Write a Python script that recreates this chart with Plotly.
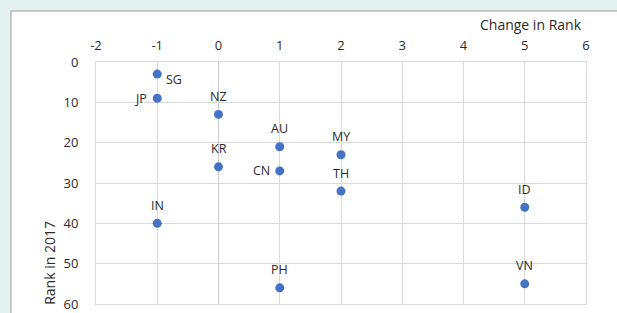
import plotly.graph_objects as go

countries = ["SG", "JP", "NZ", "AU", "MY", "KR", "CN", "TH", "ID", "IN", "VN", "PH"]
change_in_rank = [-1, -1, 0, 1, 2, 0, 1, 2, 5, -1, 5, 1]
rank_2017 = [3, 9, 13, 21, 23, 26, 27, 32, 36, 40, 55, 56]
label_side = ["right", "left", "top", "top", "top", "top", "left", "top", "top", "top", "top", "top"]

x_ticks = [-2, -1, 0, 1, 2, 3, 4, 5, 6]
x_tick_labels = ["-2", "-1", "0", "1", "2", "3", "4", "5", "6"]
y_ticks = [0, 10, 20, 30, 40, 50, 60]

FONT = "Open Sans, Noto Sans, sans-serif"
TXT = "#2b2b2b"

fig = go.Figure()
fig.add_trace(go.Scatter(
    x=change_in_rank, y=rank_2017, mode="markers",
    marker=dict(color="#4472c4", size=9),
    hoverinfo="skip", showlegend=False,
))

annotations = []
for c, x, y, s in zip(countries, change_in_rank, rank_2017, label_side):
    if s == "top":
        annotations.append(dict(x=x, y=y, text=c, showarrow=False, xanchor="center",
                                yanchor="middle", yshift=18))
    elif s == "left":
        annotations.append(dict(x=x, y=y, text=c, showarrow=False, xanchor="right",
                                yanchor="middle", xshift=-8))
    else:
        annotations.append(dict(x=x, y=y, text=c, showarrow=False, xanchor="left",
                                yanchor="middle", xshift=7, yshift=-5))
for a in annotations:
    a["font"] = dict(family=FONT, size=12.5, color=TXT)

annotations.append(dict(xref="paper", yref="paper", x=0.995, y=1.153, text="Change in Rank",
                        showarrow=False, xanchor="right", yanchor="middle",
                        font=dict(family=FONT, size=14, color=TXT)))
annotations.append(dict(xref="paper", yref="paper", x=-0.095, y=-0.01, text="Rank in 2017",
                        showarrow=False, xanchor="center", yanchor="bottom", textangle=-90,
                        font=dict(family=FONT, size=14, color=TXT)))

fig.update_layout(
    width=617, height=313,
    margin=dict(l=96, r=31, t=62, b=9, autoexpand=False),
    paper_bgcolor="#e3f1f1",
    plot_bgcolor="white",
    font=dict(family=FONT, size=13, color=TXT),
    annotations=annotations,
    shapes=[dict(type="rect", xref="paper", yref="paper",
                 x0=-0.1735, x1=1.3, y0=-0.2, y1=1.2107,
                 fillcolor="white", line=dict(color="#b8b8b8", width=1.5), layer="below")],
    xaxis=dict(side="top", range=[-2, 6], tickvals=x_ticks, ticktext=x_tick_labels,
               showgrid=True, gridcolor="#d9d9d9", gridwidth=1, zeroline=True,
               zerolinecolor="#c8c8c8", zerolinewidth=1, showline=True, linecolor="#d9d9d9",
               mirror=True, ticks="", ticklabelstandoff=6, ticklabeloverflow="allow",
               automargin=False, tickfont=dict(size=13, color=TXT)),
    yaxis=dict(range=[60, 0], tickvals=y_ticks, showgrid=True, gridcolor="#d9d9d9",
               gridwidth=1, zeroline=False, showline=True, linecolor="#d9d9d9", mirror=True,
               ticks="", ticklabelstandoff=14, ticklabeloverflow="allow",
               automargin=False, tickfont=dict(size=13, color=TXT)),
)

fig.write_html("out.html", config={"displayModeBar": False},
               post_script="document.body.style.margin='0';")
